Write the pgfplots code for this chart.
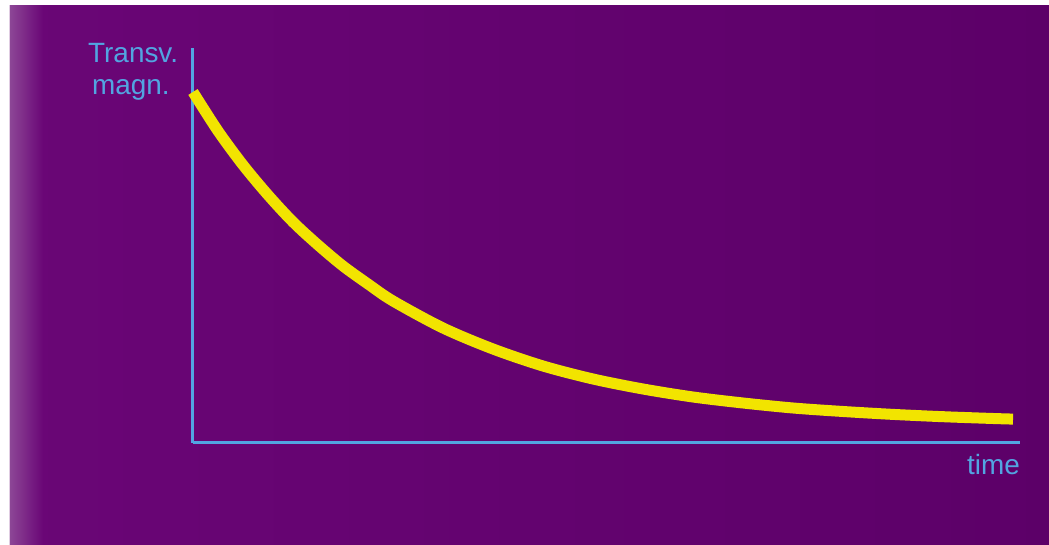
\documentclass[border=0pt]{standalone}
\usepackage{pgfplots}
\pgfplotsset{compat=1.18}
\usepackage{fontspec}
\setmainfont{Liberation Sans}
\definecolor{bgleft}{RGB}{106,6,118}
\definecolor{bgright}{RGB}{92,0,104}
\definecolor{bgedge}{RGB}{140,70,150}
\definecolor{axcyan}{RGB}{82,165,225}
\definecolor{curveyellow}{RGB}{242,228,0}
\begin{document}
\begin{tikzpicture}[x=1bp,y=1bp]
\fill[white] (-193,-102) rectangle (856,443);
\fill[bgright] (-183,-115) rectangle (870,437);
\shade[left color=bgleft, right color=bgright] (-183,-115) rectangle (870,437);
\shade[left color=bgedge, right color=bgleft] (-183,-115) rectangle (-150,437);
\begin{axis}[
  at={(0,0)}, anchor=south west,
  scale only axis, width=827bp, height=395bp,
  xmin=0, xmax=827, ymin=0, ymax=395,
  axis lines=left,
  axis line style={-, draw=axcyan, line width=3bp},
  ticks=none,
  clip=false,
]
\addplot[curveyellow, line width=11bp, line cap=butt, smooth] coordinates {
(0,351) (25,312) (50,278) (75,248) (100,221) (125,198) (150,177) (175,159)
(200,142) (250,115) (300,94) (350,77) (400,64) (450,54) (500,46) (550,40)
(600,35) (650,31.5) (700,28.6) (750,26.3) (800,24.5) (820,23.9)
};
\node[anchor=base west, inner sep=0pt, text=axcyan, font=\fontsize{28}{33}\selectfont] at (axis cs:-105,380) {Transv.};
\node[anchor=base west, inner sep=0pt, text=axcyan, font=\fontsize{28}{33}\selectfont] at (axis cs:-101,348) {magn.};
\node[anchor=base east, inner sep=0pt, text=axcyan, font=\fontsize{28}{33}\selectfont] at (axis cs:827,-32) {time};
\end{axis}
\pgfresetboundingbox
\useasboundingbox (-193,-102) rectangle (856,443);
\end{tikzpicture}
\end{document}
